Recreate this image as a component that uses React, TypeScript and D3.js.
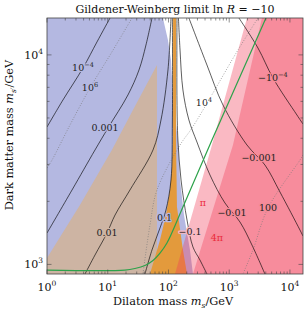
import * as d3 from 'd3'

type Pt = [number, number]

const W = 304
const H = 313
const frame = { left: 47, right: 303, top: 18, bottom: 274 }

const xMax = 16400
const yMin = 900
const yMax = 15000

const xDecades = [1, 10, 100, 1000, 10000]
const xDecadeExp = ['0', '1', '2', '3', '4']
const yDecades = [1000, 10000]
const yDecadeExp = ['3', '4']

// shaded regions, points are [dilaton mass, dark matter mass] in GeV
const blueRegion: Pt[] = [[1, 15000], [81, 15000], [98, 11780], [110, 9456], [119, 6228], [143, 3925], [155, 2529], [180, 1721], [226, 1172], [253, 900], [1, 900]]
const tanRegion: Pt[] = [[1, 900], [1, 1073], [3.49, 1920], [11.7, 3517], [26, 5458], [64.7, 8950], [64.7, 900]]
const orangeRegion: Pt[] = [[119, 15000], [119, 3925], [114, 2822], [106, 2265], [90.9, 1721], [72.5, 1307], [49.6, 900], [202, 900], [173, 1172], [138, 1879], [133, 3925], [133, 15000]]
const piRegion: Pt[] = [[1959, 15000], [520, 3715], [128, 900], [xMax, 900], [xMax, 15000]]
const fourPiRegion: Pt[] = [[3459, 15000], [1153, 3715], [253, 900], [xMax, 900], [xMax, 15000]]

// relic abundance line
const relicLine: Pt[] = [[1, 940], [19.2, 940], [28.1, 956], [41, 988], [55.6, 1044], [72.5, 1133], [94.4, 1265], [173, 1879], [520, 3925], [4027, 15000]]

// solid contours
const contour1em4: Pt[] = [[10.9, 15000], [6.65, 11530], [3.91, 8660], [1.83, 6092], [1, 4528]]
const contour1em3: Pt[] = [[53.5, 15000], [42.6, 11150], [32.7, 8472], [21.5, 6437], [10.1, 4479], [6.17, 3517], [2.58, 2265], [1, 1412]]
const contour1em2: Pt[] = [[110, 15000], [98.1, 8472], [75.3, 4890], [55.6, 3517], [23.2, 2265], [13.2, 1721], [9.72, 1412], [6.17, 1109], [4.22, 900]]
const contour1em1: Pt[] = [[116, 15000], [116, 4890], [110, 2529], [90.9, 1818], [72.5, 1492], [53.5, 1172], [41, 900]]
const contourM1em1: Pt[] = [[138, 15000], [138, 6092], [143, 3925], [161, 2529], [202, 1629], [253, 1211], [330, 1049], [430, 900]]
const contourM1em2: Pt[] = [[146, 15000], [155, 10550], [173, 6800], [217, 4890], [294, 3840], [482, 2672], [851, 1964], [1503, 1594], [2367, 1238], [3874, 900]]
const contourM1em3: Pt[] = [[217, 15000], [430, 8950], [789, 5766], [1959, 3715], [3874, 2982], [6846, 2216], [14620, 1459], [16370, 1366]]
const contourM1em4: Pt[] = [[1446, 15000], [2972, 10790], [5248, 7760], [13030, 5166], [16370, 4679]]
const solidContours = [contour1em4, contour1em3, contour1em2, contour1em1, contourM1em1, contourM1em2, contourM1em3, contourM1em4]

// dotted contours
const dotted1e6: Pt[] = [[25.1, 15000], [11.7, 10320], [5.1, 6950], [2.39, 4628], [1.21, 3149], [1, 2885]]
const dotted1e4: Pt[] = [[2972, 15000], [1244, 9990], [540, 6578], [244, 4479], [155, 3715], [64.7, 2265], [49.6, 1542], [38, 900]]
const dotted100: Pt[] = [[16370, 3327], [14620, 3149], [4345, 1858], [2460, 1172], [1684, 900]]
const dottedContours = [dotted1e6, dotted1e4, dotted100]

const BLUE = '#b4b8e1'
const TAN = '#cdb4a3'
const ORANGE = '#e39a3c'
const PINK = 'rgb(241,59,87)'
const LIGHTPINK = '#f9b9c3'
const DARKPINK = '#f48b98'

type Lbl = { x: number; y: number; base: string; sup?: string; bg: string; red?: boolean }
const contourLabels: Lbl[] = [
  { x: 3.91, y: 8660, base: '10', sup: '−4', bg: BLUE },
  { x: 5.1, y: 6950, base: '10', sup: '6', bg: BLUE },
  { x: 9.01, y: 4479, base: '0.001', bg: BLUE },
  { x: 9.72, y: 1412, base: '0.01', bg: TAN },
  { x: 86, y: 1666, base: '0.1', bg: BLUE },
  { x: 384, y: 5893, base: '10', sup: '4', bg: '#ffffff' },
  { x: 5248, y: 7760, base: '−10', sup: '−4', bg: DARKPINK },
  { x: 3090, y: 3220, base: '−0.001', bg: DARKPINK },
  { x: 1110, y: 1759, base: '−0.01', bg: DARKPINK },
  { x: 4345, y: 1858, base: '100', bg: DARKPINK },
  { x: 226, y: 1428, base: '−0.1', bg: LIGHTPINK },
  { x: 370, y: 1964, base: 'π', bg: LIGHTPINK, red: true },
  { x: 629, y: 1336, base: '4π', bg: DARKPINK, red: true },
]

const FONT = "'DejaVu Serif', serif"

export default function App() {
  const x = d3.scaleLog().domain([1, xMax]).range([frame.left, frame.right])
  const y = d3.scaleLog().domain([yMin, yMax]).range([frame.bottom, frame.top])

  const area = (pts: Pt[]) => 'M' + pts.map(p => `${x(p[0])},${y(p[1])}`).join('L') + 'Z'
  const curve = d3.line<Pt>().x(p => x(p[0])).y(p => y(p[1])).curve(d3.curveCatmullRom)

  const xTicks = x.ticks().filter(t => t <= xMax)
  const yTicks = y.ticks().filter(t => t > yMin && t <= yMax)
  const isMajor = (t: number) => Math.abs(Math.log10(t) - Math.round(Math.log10(t))) < 1e-6

  return (
    <svg width={W} height={H} style={{ position: 'absolute', left: 0, top: 0, background: '#fff' }} fontFamily={FONT}>
      <defs>
        <clipPath id="plot-clip">
          <rect x={frame.left} y={frame.top} width={frame.right - frame.left} height={frame.bottom - frame.top} />
        </clipPath>
      </defs>
      <g clipPath="url(#plot-clip)">
        <path d={area(blueRegion)} fill={BLUE} />
        <path d={area(tanRegion)} fill={TAN} />
        <path d={area(orangeRegion)} fill={ORANGE} />
        <path d={area(piRegion)} fill={PINK} fillOpacity={0.357} />
        <path d={area(fourPiRegion)} fill={PINK} fillOpacity={0.357} />
        {dottedContours.map((c, i) => (
          <path key={'d' + i} d={curve(c) ?? ''} fill="none" stroke="#777" strokeWidth={0.8} strokeDasharray="0.8,1.8" />
        ))}
        {solidContours.map((c, i) => (
          <path key={'c' + i} d={curve(c) ?? ''} fill="none" stroke="#000" strokeOpacity={0.7} strokeWidth={0.9} />
        ))}
        <path d={curve(relicLine) ?? ''} fill="none" stroke="#2ca24a" strokeWidth={1.2} />
        {contourLabels.map((l, i) => (
          <text key={'l' + i} x={x(l.x)} y={y(l.y)} dy="0.35em" textAnchor="middle" fontSize={9.5}
            fill={l.red ? '#ec2a3c' : '#222'} stroke={l.bg} strokeWidth={2.5} paintOrder="stroke" strokeLinejoin="round">
            {l.base}
            {l.sup && <tspan dy={-4} fontSize={6.5}>{l.sup}</tspan>}
          </text>
        ))}
      </g>
      {/* ticks on all four sides */}
      {xTicks.map((t, i) => {
        const len = isMajor(t) ? 4.5 : 2.5
        return (
          <g key={'xt' + i} stroke="#444" strokeWidth={0.6}>
            <line x1={x(t)} x2={x(t)} y1={frame.bottom} y2={frame.bottom - len} />
            <line x1={x(t)} x2={x(t)} y1={frame.top} y2={frame.top + len} />
          </g>
        )
      })}
      {yTicks.map((t, i) => {
        const len = isMajor(t) ? 4.5 : 2.5
        return (
          <g key={'yt' + i} stroke="#444" strokeWidth={0.6}>
            <line x1={frame.left} x2={frame.left + len} y1={y(t)} y2={y(t)} />
            <line x1={frame.right} x2={frame.right - len} y1={y(t)} y2={y(t)} />
          </g>
        )
      })}
      <rect x={frame.left} y={frame.top} width={frame.right - frame.left} height={frame.bottom - frame.top}
        fill="none" stroke="#444" strokeWidth={0.8} />
      {xDecades.map((t, i) => (
        <text key={'xl' + i} x={x(t)} y={291} textAnchor="middle" fontSize={11} fill="#111">
          10<tspan dy={-5} fontSize={7.5}>{xDecadeExp[i]}</tspan>
        </text>
      ))}
      {yDecades.map((t, i) => (
        <text key={'yl' + i} x={43} y={y(t)} dy="0.35em" textAnchor="end" fontSize={11} fill="#111">
          10<tspan dy={-5} fontSize={7.5}>{yDecadeExp[i]}</tspan>
        </text>
      ))}
      <text x={175} y={13} textAnchor="middle" fontSize={11} fill="#111">
        Gildener-Weinberg limit ln <tspan fontStyle="italic">R</tspan> = −10
      </text>
      <text x={173} y={305} textAnchor="middle" fontSize={11.3} fill="#111">
        Dilaton mass <tspan fontStyle="italic">m</tspan><tspan dy={2.5} fontSize={7.5} fontStyle="italic">s</tspan><tspan dy={-2.5}>/GeV</tspan>
      </text>
      <text transform="translate(13,135) rotate(-90)" textAnchor="middle" fontSize={11.3} fill="#111">
        Dark matter mass <tspan fontStyle="italic">m</tspan><tspan dy={2.5} fontSize={7.5} fontStyle="italic">s′</tspan><tspan dy={-2.5}>/GeV</tspan>
      </text>
    </svg>
  )
}
